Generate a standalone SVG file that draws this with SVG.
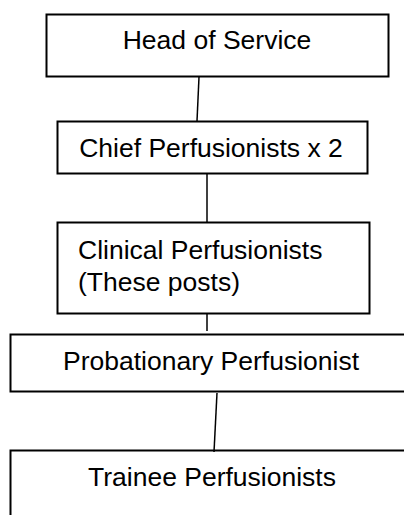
<svg xmlns="http://www.w3.org/2000/svg" width="404" height="515" viewBox="0 0 404 515">
<style>
.box{fill:#fff;stroke:#000;stroke-width:2}
.lbl{font-family:"Liberation Sans",Arial,sans-serif;font-size:26.5px;fill:#000}
.mid{text-anchor:middle}
.conn line{stroke:#000;stroke-width:1.5}
</style>
<rect width="404" height="515" fill="#fff"/>
<g id="head">
<rect class="box" x="46.5" y="14.5" width="342" height="62"/>
<text class="lbl mid" x="217" y="49">Head of Service</text>
</g>
<g id="chief">
<rect class="box" x="57.5" y="121.5" width="310" height="52"/>
<text class="lbl mid" x="211" y="157">Chief Perfusionists x 2</text>
</g>
<g id="clinical">
<rect class="box" x="57.5" y="222.5" width="312" height="91"/>
<text class="lbl" x="78" y="259">Clinical Perfusionists</text>
<text class="lbl" x="78" y="291">(These posts)</text>
</g>
<g id="probationary">
<rect class="box" x="10.5" y="334.5" width="405" height="57"/>
<text class="lbl mid" x="211" y="370">Probationary Perfusionist</text>
</g>
<g id="trainee">
<rect class="box" x="10.5" y="450.5" width="405" height="80"/>
<text class="lbl mid" x="212" y="486">Trainee Perfusionists</text>
</g>
<g id="connectors" class="conn">
<line x1="199" y1="77" x2="197" y2="121"/>
<line x1="207" y1="174" x2="207" y2="222"/>
<line x1="207" y1="314" x2="207" y2="331"/>
<line x1="217" y1="393" x2="214" y2="452"/>
</g>
</svg>
